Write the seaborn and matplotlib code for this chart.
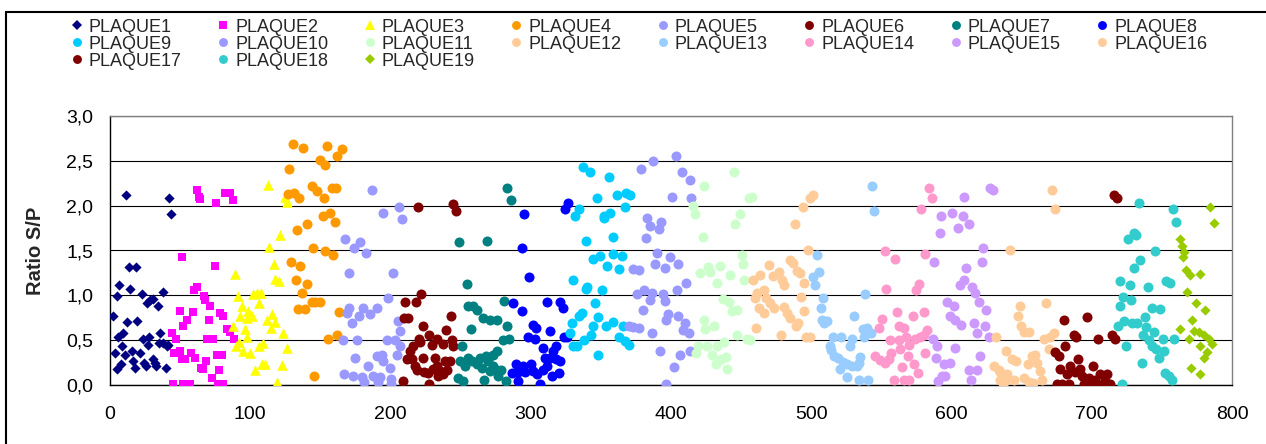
import numpy as np
import pandas as pd
import matplotlib
matplotlib.use("Agg")
import matplotlib.pyplot as plt
import seaborn as sns
from matplotlib.lines import Line2D
from matplotlib.ticker import FuncFormatter, MultipleLocator

sns.set_style("white")
plt.rcParams['font.family'] = ['Liberation Sans', 'DejaVu Sans']

# ---------------- data (x = sample index, y = ratio S/P) ----------------
p1 = [(1.9,0.77),(3.6,0.36),(4.8,0.99),(4.8,0.18),(6.0,0.53),(6.6,1.12),(7.6,0.23),(8.3,0.43),(9.5,0.58),
      (10.7,0.34),(11.4,2.12),(12.4,0.70),(13.8,1.32),(14.3,1.07),(15.4,0.38),(16.2,0.27),(17.8,0.19),(18.5,1.32),
      (19.5,0.71),(21.4,0.36),(22.6,1.02),(23.3,0.51),(24.2,0.25),(25.7,0.21),(26.1,0.91),(27.3,0.45),(28.0,0.54),
      (28.5,0.95),(30.4,0.96),(30.9,0.29),(32.0,0.25),(32.7,0.21),(34.4,0.88),(35.2,0.47),(36.0,0.58),(37.5,1.04),
      (38.0,0.47),(39.9,0.19),(40.4,0.43),(42.3,2.09),(43.2,1.91),(41.6,0.45)]
p2 = [(44.0,0.58),(44.9,0.01),(45.3,0.36),(47.2,0.51),(49.6,0.83),(50.0,0.38),(51.2,0.29),(51.2,1.43),(51.8,0.01),
      (51.8,0.66),(53.5,0.29),(54.6,0.73),(57.0,0.01),(58.0,0.36),(58.9,0.81),(59.9,1.06),(60.6,0.30),(61.7,1.09),
      (62.2,2.17),(63.7,2.10),(65.2,0.19),(66.9,0.99),(67.6,0.95),(68.8,0.27),(69.3,0.51),(70.8,0.73),(71.3,0.88),
      (72.5,0.08),(73.6,0.51),(74.8,1.33),(75.5,2.03),(76.0,0.34),(77.2,0.01),(78.5,0.80),(80.8,0.77),(80.8,0.01),
      (82.0,2.14),(83.2,0.62),(85.6,2.14),(85.6,0.59),(87.5,2.06),(88.4,0.51),(77.7,0.17),(79.7,0.34),(66.6,0.18),
      (64.5,2.07)]
p3 = [(112.9,2.23),(124.8,2.10),(126.0,2.04),(121.3,1.67),(113.6,1.54),(117.0,1.35),(117.7,1.18),(120.8,1.16),
      (89.2,1.24),(91.5,0.99),(102.2,1.01),(104.6,1.03),(107.5,1.03),(106.5,0.91),(93.9,0.88),(98.7,0.83),(111.8,0.73),
      (115.3,0.79),(117.7,0.70),(92.7,0.77),(97.5,0.75),(101.0,0.77),(88.0,0.66),(96.3,0.63),(114.6,0.64),(123.6,0.58),
      (126.0,0.41),(89.9,0.43),(92.2,0.48),(97.5,0.54),(95.1,0.38),(99.9,0.36),(106.5,0.43),(109.4,0.47),(110.6,0.23),
      (108.2,0.23),(103.4,0.17),(122.5,0.22),(119.4,0.03)]
p4 = [(130.3,2.69),(137.9,2.64),(154.5,2.67),(165.3,2.63),(162.2,2.55),(149.8,2.51),(153.4,2.45),(127.9,2.41),
      (143.8,2.22),(147.9,2.16),(158.1,2.20),(161.2,2.20),(127.2,2.13),(131.2,2.14),(135.0,2.08),(152.6,2.08),
      (151.7,1.89),(156.9,1.92),(160.5,1.82),(140.3,1.80),(133.6,1.73),(145.0,1.53),(153.6,1.49),(159.3,1.45),
      (128.9,1.37),(135.5,1.33),(132.7,1.17),(140.8,1.13),(136.7,1.03),(143.8,0.93),(146.3,0.93),(149.8,0.93),
      (134.3,0.85),(139.1,0.85),(163.6,0.81),(161.7,0.56),(155.7,0.51),(145.7,0.10)]
p5 = [(187.1,2.17),(206.1,1.98),(195.0,1.92),(208.5,1.85),(167.9,1.63),(178.3,1.60),(174.0,1.53),(182.6,1.47),
      (170.5,1.25),(201.6,1.25),(198.5,0.97),(170.7,0.86),(168.8,0.80),(180.7,0.86),(190.2,0.86),(177.8,0.77),
      (185.4,0.79),(172.4,0.69),(205.2,0.71),(166.0,0.50),(176.0,0.50),(197.3,0.50),(203.3,0.50),(206.8,0.44),
      (174.8,0.30),(190.2,0.32),(193.8,0.34),(204.5,0.34),(184.3,0.21),(195.0,0.27),(199.3,0.19),(166.9,0.12),
      (173.1,0.10),(179.5,0.09),(181.4,0.03),(187.8,0.10),(192.6,0.09),(191.4,0.03),(200.7,0.07),(200.7,0.01),
      (206.8,0.60)]
p6 = [(219.9,1.98),(244.9,2.02),(246.8,1.94),(210.4,0.93),(218.3,0.93),(221.6,1.01),(209.7,0.75),(212.8,0.75),
      (223.0,0.66),(243.0,0.77),(239.7,0.61),(227.8,0.56),(233.0,0.51),(221.1,0.48),(229.4,0.45),(237.3,0.46),
      (243.7,0.50),(244.9,0.43),(216.3,0.43),(214.0,0.38),(211.6,0.29),(223.5,0.30),(231.8,0.30),(238.9,0.27),
      (242.5,0.27),(217.5,0.21),(218.7,0.17),(224.0,0.14),(227.0,0.13),(230.6,0.18),(233.4,0.21),(235.4,0.16),
      (237.3,0.12),(240.1,0.17),(227.8,0.01),(209.2,0.04),(234.2,0.10),(215.1,0.29),(220.6,0.51)]
p7 = [(283.4,2.20),(285.8,2.06),(248.5,1.59),(268.7,1.61),(254.4,1.13),(281.0,0.94),(255.6,0.88),(258.7,0.88),
      (261.6,0.84),(265.8,0.75),(271.0,0.73),(275.8,0.73),(283.4,0.66),(257.5,0.63),(284.8,0.51),(280.1,0.50),
      (250.8,0.44),(275.8,0.38),(273.4,0.34),(255.6,0.30),(249.7,0.27),(258.0,0.27),(263.9,0.30),(268.2,0.32),
      (269.8,0.27),(253.2,0.21),(261.6,0.23),(265.1,0.19),(273.0,0.21),(275.8,0.17),(278.7,0.17),(271.0,0.16),
      (248.0,0.08),(252.0,0.04),(266.8,0.06),(277.0,0.10),(282.5,0.04)]
p8 = [(326.9,2.03),(324.5,1.96),(295.4,1.91),(293.6,1.53),(299.0,1.21),(287.7,0.92),(311.5,0.93),(320.5,0.93),
      (322.9,0.86),(293.6,0.83),(301.5,0.67),(303.9,0.64),(313.8,0.60),(297.7,0.54),(302.7,0.51),(323.4,0.54),
      (325.7,0.53),(308.6,0.41),(317.9,0.44),(316.2,0.38),(310.3,0.30),(313.8,0.30),(321.0,0.27),(318.1,0.29),
      (289.6,0.23),(294.3,0.21),(300.0,0.23),(311.5,0.21),(286.5,0.13),(291.2,0.14),(296.0,0.14),(301.9,0.16),
      (304.8,0.12),(309.0,0.17),(315.0,0.10),(319.8,0.13),(291.2,0.04),(306.7,0.01)]
p9 = [(337.1,2.43),(341.9,2.38),(356.1,2.32),(347.1,2.08),(334.7,1.96),(331.7,1.88),(352.3,1.88),(356.6,1.92),
      (351.9,1.86),(339.5,1.61),(359.0,1.65),(344.7,1.40),(349.5,1.44),(358.6,1.46),(362.6,1.29),(354.7,1.33),
      (330.4,1.17),(339.5,1.07),(340.4,1.09),(350.7,1.06),(345.9,0.91),(336.4,0.80),(334.7,0.77),(348.3,0.76),
      (329.3,0.69),(328.1,0.58),(344.2,0.66),(342.8,0.56),(353.8,0.66),(359.0,0.70),(338.1,0.50),(362.6,0.54),
      (330.0,0.43),(332.9,0.43),(348.3,0.34),(361.8,2.12),(368.0,2.14),(370.9,2.12),(367.3,1.98),(365.0,1.44),
      (365.7,0.66),(367.3,0.49),(369.7,0.45)]
p10 = [(378.5,2.41),(387.5,2.50),(403.7,2.55),(407.8,2.38),(413.3,2.29),(400.6,2.10),(414.2,2.08),(382.8,1.86),
       (385.2,1.77),(392.8,1.82),(391.1,1.74),(382.3,1.64),(389.9,1.47),(399.4,1.43),(388.7,1.35),(395.9,1.31),
       (405.3,1.35),(372.8,1.29),(376.9,1.28),(410.8,1.14),(380.4,1.06),(376.1,1.01),(386.3,1.03),(384.7,0.95),
       (394.1,1.01),(395.9,0.94),(404.2,1.06),(379.9,0.84),(398.2,0.79),(404.7,0.77),(396.6,0.73),(370.4,0.66),
       (373.2,0.65),(377.5,0.64),(410.1,0.69),(408.4,0.61),(412.5,0.58),(386.3,0.58),(392.3,0.38),(406.6,0.34),
       (413.3,0.38),(402.3,0.20),(396.6,0.01)]
p11 = [(444.6,2.37),(423.7,2.22),(455.3,2.08),(457.7,2.10),(415.6,2.00),(417.3,1.91),(449.4,1.91),(445.8,1.80),
       (422.7,1.65),(450.6,1.45),(451.3,1.35),(426.7,1.32),(434.6,1.33),(420.8,1.25),(428.0,1.26),(442.2,1.23),
       (451.7,1.17),(433.1,1.14),(437.0,0.96),(441.7,0.93),(443.4,0.83),(447.0,0.84),(423.7,0.72),(424.4,0.62),
       (430.8,0.66),(447.4,0.56),(454.1,0.51),(456.5,0.50),(437.9,0.48),(418.9,0.43),(425.6,0.44),(432.7,0.43),
       (418.0,0.36),(429.1,0.34),(435.6,0.29),(432.2,0.23),(439.4,0.31),(439.9,0.18)]
p12 = [(501.2,2.12),(498.8,2.08),(494.0,1.98),(488.6,1.79),(497.4,1.51),(469.6,1.34),(484.5,1.39),(486.9,1.36),
       (489.7,1.27),(492.1,1.25),(463.6,1.23),(458.4,1.17),(472.7,1.22),(476.7,1.26),(479.1,1.17),(480.7,1.11),
       (495.0,1.14),(461.3,1.03),(466.0,1.06),(460.0,0.97),(467.9,0.97),(470.3,0.92),(473.1,0.86),(492.6,0.98),
       (462.4,0.86),(466.5,0.80),(480.7,0.87),(482.6,0.80),(485.0,0.75),(495.0,0.83),(460.8,0.64),(489.3,0.66),
       (490.9,0.69),(478.4,0.56),(496.4,0.54),(498.8,0.54)]
p13 = [(543.3,2.22),(544.5,1.94),(504.0,1.45),(505.2,1.26),(501.6,1.21),(502.8,1.12),(508.3,0.97),(506.9,0.86),
       (538.5,1.01),(530.7,0.77),(507.6,0.73),(511.2,0.71),(509.3,0.69),(515.2,0.54),(521.2,0.54),(536.9,0.62),
       (539.7,0.64),(542.6,0.58),(537.3,0.53),(529.0,0.51),(513.1,0.44),(514.1,0.39),(527.8,0.44),(515.9,0.32),
       (518.8,0.30),(522.6,0.26),(525.5,0.23),(529.0,0.21),(532.6,0.21),(535.0,0.31),(533.7,0.25),(520.7,0.18),
       (525.5,0.09),(533.7,0.06),(540.2,0.06)]
p14 = [(583.7,2.20),(586.1,2.08),(578.2,1.96),(552.8,1.49),(559.9,1.40),(581.3,1.46),(553.5,1.07),(576.5,1.13),
       (574.9,1.06),(561.1,0.81),(580.1,0.81),(572.5,0.77),(550.4,0.74),(548.0,0.64),(562.3,0.66),(565.8,0.64),
       (582.5,0.61),(580.1,0.56),(555.9,0.50),(562.3,0.50),(567.8,0.54),(574.2,0.51),(577.8,0.54),(570.0,0.45),
       (563.5,0.40),(556.8,0.36),(555.1,0.29),(545.6,0.32),(549.2,0.28),(552.8,0.24),(581.3,0.36),(568.7,0.32),
       (573.0,0.23),(564.7,0.20),(575.8,0.13),(559.2,0.06),(565.8,0.06),(569.4,0.06)]
p15 = [(627.2,2.20),(629.6,2.17),(609.1,2.10),(600.4,1.92),(608.2,1.89),(592.5,1.89),(604.8,1.75),(612.7,1.79),
       (591.6,1.70),(622.4,1.53),(587.7,1.37),(621.7,1.37),(610.6,1.31),(608.6,1.17),(605.8,1.11),(614.6,1.09),
       (617.0,1.03),(596.8,0.93),(602.0,0.88),(619.3,0.93),(624.8,0.84),(599.1,0.77),(602.7,0.72),(606.8,0.67),
       (615.8,0.69),(618.2,0.58),(624.1,0.66),(626.4,0.54),(587.1,0.51),(589.6,0.44),(602.7,0.41),(589.1,0.30),
       (620.5,0.32),(594.3,0.23),(599.1,0.24),(612.2,0.17),(618.2,0.17),(593.2,0.10),(595.6,0.10),(590.1,0.04),
       (613.9,0.06)]
p16 = [(671.7,2.17),(674.0,1.96),(641.5,1.51),(648.6,0.88),(647.1,0.77),(667.6,0.91),(649.6,0.66),(651.4,0.59),
       (655.0,0.59),(665.7,0.51),(670.0,0.54),(672.8,0.58),(639.1,0.38),(643.2,0.29),(646.2,0.27),(654.3,0.23),
       (657.4,0.32),(659.8,0.34),(661.0,0.25),(669.2,0.40),(634.8,0.14),(639.6,0.12),(638.4,0.04),(644.3,0.06),
       (651.4,0.08),(655.0,0.03),(658.1,0.02),(663.3,0.16),(664.5,0.06),(631.9,0.54),(630.0,0.21),(633.6,0.17),
       (634.8,0.06),(636.7,0.02)]
p17 = [(715.6,2.12),(718.0,2.08),(680.0,0.72),(696.6,0.76),(687.6,0.56),(689.0,0.54),(704.2,0.51),(714.5,0.56),
       (716.8,0.51),(681.2,0.43),(674.0,0.37),(676.4,0.32),(690.0,0.29),(677.6,0.18),(684.7,0.21),(691.9,0.18),
       (700.9,0.21),(706.1,0.12),(710.9,0.12),(682.4,0.12),(688.3,0.14),(693.1,0.10),(697.8,0.08),(675.2,0.01),
       (678.7,0.01),(683.5,0.01),(694.2,0.01),(699.0,0.01),(703.7,0.01),(708.5,0.01),(713.3,0.01),(702.6,0.06),
       (709.7,0.04)]
p18 = [(733.4,2.03),(757.9,1.96),(760.3,1.82),(725.6,1.63),(730.4,1.70),(731.8,1.67),(745.4,1.49),(734.7,1.39),
       (729.9,1.31),(719.9,1.16),(727.0,1.11),(753.2,1.16),(756.1,1.14),(739.9,1.09),(722.3,0.98),(728.0,0.95),
       (719.9,0.88),(743.0,0.86),(748.4,0.85),(738.2,0.76),(723.0,0.71),(729.0,0.69),(732.5,0.69),(718.5,0.66),
       (738.9,0.65),(736.6,0.56),(744.7,0.59),(740.6,0.50),(750.9,0.51),(758.5,0.51),(724.7,0.43),(743.0,0.44),
       (746.1,0.40),(751.3,0.38),(747.8,0.30),(735.8,0.25),(752.5,0.13),(754.9,0.10),(757.3,0.06),(721.6,0.01)]
p19 = [(784.6,1.99),(786.9,1.81),(763.2,1.63),(764.4,1.55),(766.0,1.48),(765.1,1.43),(767.5,1.28),(769.8,1.23),
       (776.9,1.24),(768.0,1.04),(774.6,0.91),(781.0,0.84),(771.5,0.73),(762.7,0.63),(772.7,0.60),(776.2,0.59),
       (779.8,0.56),(769.1,0.51),(783.4,0.51),(785.8,0.46),(776.9,0.44),(782.2,0.37),(779.8,0.30),(770.8,0.19),
       (777.5,0.12)]

series = [p1, p2, p3, p4, p5, p6, p7, p8, p9, p10, p11, p12, p13, p14, p15, p16, p17, p18, p19]
names = [f"PLAQUE{i}" for i in range(1, 20)]
colors = ["#000080", "#FF00FF", "#FFFF00", "#FF9900", "#9999FF", "#800000", "#008080", "#0000FF",
          "#00CCFF", "#9999FF", "#CCFFCC", "#FFCC99", "#99CCFF", "#FF99CC", "#CC99FF", "#FFCC99",
          "#800000", "#33CCCC", "#99CC00"]
markers = ["D", "s", "^"] + ["o"] * 15 + ["D"]
msize = {"o": 52, "D": 27, "s": 40, "^": 58}

rows = []
for name, pts in zip(names, series):
    for x, y in pts:
        rows.append((name, x, y))
df = pd.DataFrame(rows, columns=["plaque", "x", "y"])

# ---------------- figure ----------------
W, H = 1266, 444
fig = plt.figure(figsize=(W / 100, H / 100), dpi=100)
ax = fig.add_axes([110 / W, 1 - 385 / H, (1232 - 110) / W, (385 - 116) / H])

for name, c, m in zip(names, colors, markers):
    sub = df[df["plaque"] == name]
    sns.scatterplot(data=sub, x="x", y="y", color=c, marker=m, s=msize[m],
                    linewidth=0, ax=ax, legend=False, zorder=3)

ax.set_xlim(0, 800)
ax.set_ylim(0, 3.0)
ax.xaxis.set_major_locator(MultipleLocator(100))
ax.yaxis.set_major_locator(MultipleLocator(0.5))
ax.yaxis.set_major_formatter(FuncFormatter(lambda v, p: f"{v:.1f}".replace(".", ",")))
ax.set_xlabel("")
ax.set_ylabel("Ratio S/P", fontsize=14.5, fontweight="bold")
ax.yaxis.set_label_coords((45 - 110) / (1232 - 110), 0.5)

ax.set_axisbelow(True)
ax.grid(axis="y", color="black", linewidth=0.8)
ax.grid(axis="x", visible=False)
for s in ["left", "bottom"]:
    ax.spines[s].set_color("black")
    ax.spines[s].set_linewidth(1.0)
for s in ["top", "right"]:
    ax.spines[s].set_color("#808080")
    ax.spines[s].set_linewidth(1.0)
    ax.spines[s].set_visible(True)
ax.tick_params(axis="both", direction="out", length=3.6, width=0.8, colors="black", labelsize=14)
ax.tick_params(axis="x", pad=11.5)
ax.tick_params(axis="y", pad=8.5)

# legend (row-major order reproduced through column-wise fill)
handles = [Line2D([], [], linestyle="", marker=m, color=c, markeredgewidth=0,
                  markersize=(5.6 if m == "D" else 6.4 if m == "o" else 5.6 if m == "s" else 7.0))
           for c, m in zip(colors, markers)]
order = [0, 8, 16, 1, 9, 17, 2, 10, 18, 3, 11, 4, 12, 5, 13, 6, 14, 7, 15]
fig.legend([handles[i] for i in order], [names[i] for i in order], ncol=8,
           loc="upper left", bbox_to_anchor=(69.8 / W, 1 - 18.6 / H), bbox_transform=fig.transFigure,
           frameon=False, fontsize=13, handlelength=0.8, handletextpad=0.26, columnspacing=1.9,
           labelspacing=0.0, borderaxespad=0, borderpad=0)

# outer chart-area frame (left and top edges visible)
fx, fy = 5.7 / W, 1 - 11.7 / H
fig.add_artist(Line2D([fx, fx], [0, fy], transform=fig.transFigure, color="black", linewidth=1.5))
fig.add_artist(Line2D([fx, 1], [fy, fy], transform=fig.transFigure, color="black", linewidth=1.5))

fig.savefig("out.png", dpi=100)
